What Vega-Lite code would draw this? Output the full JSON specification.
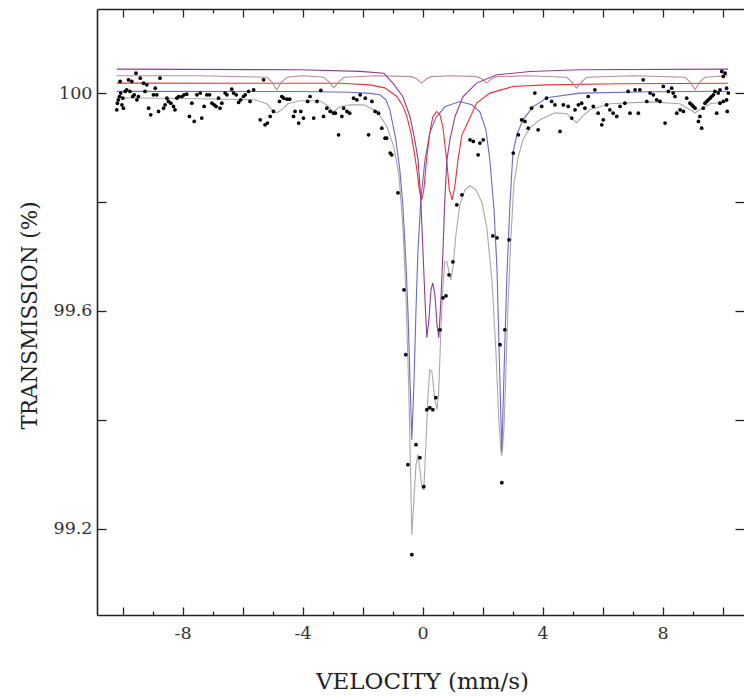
{
  "$schema": "https://vega.github.io/schema/vega-lite/v6.json",
  "width": 647,
  "height": 606,
  "autosize": {"type": "none"},
  "padding": {"left": 97, "top": 9, "right": 0, "bottom": 82},
  "background": "white",
  "config": {"view": {"stroke": null}, "font": "DejaVu Serif"},
  "datasets": {
    "lines": [
      {"s": "fit", "v": -10.19, "t": 99.9914}, {"s": "fit", "v": -7.42, "t": 99.9896}, {"s": "fit", "v": -5.59, "t": 99.9877},
      {"s": "fit", "v": -5.19, "t": 99.9804}, {"s": "fit", "v": -5.02, "t": 99.9694}, {"s": "fit", "v": -4.86, "t": 99.9638},
      {"s": "fit", "v": -4.69, "t": 99.9694}, {"s": "fit", "v": -4.49, "t": 99.9804}, {"s": "fit", "v": -4.09, "t": 99.9859},
      {"s": "fit", "v": -3.42, "t": 99.9859}, {"s": "fit", "v": -3.16, "t": 99.9767}, {"s": "fit", "v": -2.96, "t": 99.9657},
      {"s": "fit", "v": -2.76, "t": 99.9749}, {"s": "fit", "v": -2.42, "t": 99.9785}, {"s": "fit", "v": -1.95, "t": 99.9785},
      {"s": "fit", "v": -1.52, "t": 99.9663}, {"s": "fit", "v": -1.19, "t": 99.9387}, {"s": "fit", "v": -0.96, "t": 99.9014},
      {"s": "fit", "v": -0.79, "t": 99.85}, {"s": "fit", "v": -0.66, "t": 99.7582}, {"s": "fit", "v": -0.56, "t": 99.6388},
      {"s": "fit", "v": -0.46, "t": 99.4553}, {"s": "fit", "v": -0.39, "t": 99.2716}, {"s": "fit", "v": -0.36, "t": 99.1889},
      {"s": "fit", "v": -0.31, "t": 99.2349}, {"s": "fit", "v": -0.22, "t": 99.3175}, {"s": "fit", "v": -0.16, "t": 99.3359},
      {"s": "fit", "v": -0.09, "t": 99.3083}, {"s": "fit", "v": -0.02, "t": 99.2753}, {"s": "fit", "v": 0.04, "t": 99.2716},
      {"s": "fit", "v": 0.11, "t": 99.3543}, {"s": "fit", "v": 0.18, "t": 99.4461}, {"s": "fit", "v": 0.24, "t": 99.492},
      {"s": "fit", "v": 0.31, "t": 99.4883}, {"s": "fit", "v": 0.41, "t": 99.4369}, {"s": "fit", "v": 0.48, "t": 99.4185},
      {"s": "fit", "v": 0.54, "t": 99.4553}, {"s": "fit", "v": 0.61, "t": 99.5654}, {"s": "fit", "v": 0.68, "t": 99.648},
      {"s": "fit", "v": 0.74, "t": 99.6902}, {"s": "fit", "v": 0.81, "t": 99.6902}, {"s": "fit", "v": 0.88, "t": 99.6718},
      {"s": "fit", "v": 0.94, "t": 99.6571}, {"s": "fit", "v": 1.01, "t": 99.6792}, {"s": "fit", "v": 1.11, "t": 99.7398},
      {"s": "fit", "v": 1.24, "t": 99.7949}, {"s": "fit", "v": 1.41, "t": 99.8224}, {"s": "fit", "v": 1.58, "t": 99.8298},
      {"s": "fit", "v": 1.78, "t": 99.8224}, {"s": "fit", "v": 1.98, "t": 99.7986}, {"s": "fit", "v": 2.14, "t": 99.7527},
      {"s": "fit", "v": 2.31, "t": 99.6571}, {"s": "fit", "v": 2.44, "t": 99.5287}, {"s": "fit", "v": 2.54, "t": 99.4002},
      {"s": "fit", "v": 2.61, "t": 99.3414}, {"s": "fit", "v": 2.64, "t": 99.334}, {"s": "fit", "v": 2.71, "t": 99.3818},
      {"s": "fit", "v": 2.78, "t": 99.492}, {"s": "fit", "v": 2.84, "t": 99.6021}, {"s": "fit", "v": 2.94, "t": 99.7306},
      {"s": "fit", "v": 3.04, "t": 99.8316}, {"s": "fit", "v": 3.18, "t": 99.8812}, {"s": "fit", "v": 3.34, "t": 99.9142},
      {"s": "fit", "v": 3.58, "t": 99.9363}, {"s": "fit", "v": 3.91, "t": 99.951}, {"s": "fit", "v": 4.41, "t": 99.9638},
      {"s": "fit", "v": 4.81, "t": 99.962}, {"s": "fit", "v": 4.98, "t": 99.9528}, {"s": "fit", "v": 5.14, "t": 99.9455},
      {"s": "fit", "v": 5.31, "t": 99.9565}, {"s": "fit", "v": 5.58, "t": 99.9694}, {"s": "fit", "v": 6.24, "t": 99.9804},
      {"s": "fit", "v": 7.58, "t": 99.984}, {"s": "fit", "v": 8.58, "t": 99.9804}, {"s": "fit", "v": 8.91, "t": 99.9694},
      {"s": "fit", "v": 9.08, "t": 99.9638}, {"s": "fit", "v": 9.24, "t": 99.9694}, {"s": "fit", "v": 9.58, "t": 99.9804},
      {"s": "fit", "v": 10.18, "t": 99.9846},

      {"s": "blue", "v": -10.19, "t": 100.0033}, {"s": "blue", "v": -4.09, "t": 100.003}, {"s": "blue", "v": -2.42, "t": 100.0015},
      {"s": "blue", "v": -1.76, "t": 99.9996}, {"s": "blue", "v": -1.42, "t": 99.9969}, {"s": "blue", "v": -1.22, "t": 99.9877},
      {"s": "blue", "v": -1.09, "t": 99.9694}, {"s": "blue", "v": -0.89, "t": 99.9142}, {"s": "blue", "v": -0.76, "t": 99.8592},
      {"s": "blue", "v": -0.66, "t": 99.7949}, {"s": "blue", "v": -0.56, "t": 99.6939}, {"s": "blue", "v": -0.49, "t": 99.6021},
      {"s": "blue", "v": -0.42, "t": 99.4736}, {"s": "blue", "v": -0.36, "t": 99.3634}, {"s": "blue", "v": -0.29, "t": 99.4644},
      {"s": "blue", "v": -0.22, "t": 99.6021}, {"s": "blue", "v": -0.16, "t": 99.7031}, {"s": "blue", "v": -0.06, "t": 99.8041},
      {"s": "blue", "v": 0.08, "t": 99.8775}, {"s": "blue", "v": 0.24, "t": 99.9271}, {"s": "blue", "v": 0.44, "t": 99.9547},
      {"s": "blue", "v": 0.74, "t": 99.9749}, {"s": "blue", "v": 1.24, "t": 99.9846}, {"s": "blue", "v": 1.64, "t": 99.9785},
      {"s": "blue", "v": 1.91, "t": 99.9657}, {"s": "blue", "v": 2.11, "t": 99.9326}, {"s": "blue", "v": 2.24, "t": 99.8775},
      {"s": "blue", "v": 2.38, "t": 99.7857}, {"s": "blue", "v": 2.48, "t": 99.6755}, {"s": "blue", "v": 2.54, "t": 99.547},
      {"s": "blue", "v": 2.64, "t": 99.3414}, {"s": "blue", "v": 2.74, "t": 99.5379}, {"s": "blue", "v": 2.81, "t": 99.6663},
      {"s": "blue", "v": 2.91, "t": 99.7949}, {"s": "blue", "v": 3.01, "t": 99.8904}, {"s": "blue", "v": 3.14, "t": 99.9234},
      {"s": "blue", "v": 3.34, "t": 99.951}, {"s": "blue", "v": 3.68, "t": 99.9749}, {"s": "blue", "v": 4.14, "t": 99.9914},
      {"s": "blue", "v": 5.24, "t": 100.0}, {"s": "blue", "v": 7.58, "t": 100.0024}, {"s": "blue", "v": 10.18, "t": 100.0033},

      {"s": "red", "v": -10.19, "t": 100.0184}, {"s": "red", "v": -2.76, "t": 100.018}, {"s": "red", "v": -1.76, "t": 100.0152},
      {"s": "red", "v": -1.26, "t": 100.0097}, {"s": "red", "v": -0.86, "t": 99.9938}, {"s": "red", "v": -0.66, "t": 99.9767},
      {"s": "red", "v": -0.52, "t": 99.9565}, {"s": "red", "v": -0.39, "t": 99.9271}, {"s": "red", "v": -0.29, "t": 99.8959},
      {"s": "red", "v": -0.19, "t": 99.8592}, {"s": "red", "v": -0.11, "t": 99.8224}, {"s": "red", "v": -0.03, "t": 99.8041},
      {"s": "red", "v": 0.04, "t": 99.8224}, {"s": "red", "v": 0.13, "t": 99.8775}, {"s": "red", "v": 0.24, "t": 99.9271},
      {"s": "red", "v": 0.34, "t": 99.9565}, {"s": "red", "v": 0.47, "t": 99.9663}, {"s": "red", "v": 0.58, "t": 99.9602},
      {"s": "red", "v": 0.68, "t": 99.9363}, {"s": "red", "v": 0.8, "t": 99.8775}, {"s": "red", "v": 0.89, "t": 99.8224},
      {"s": "red", "v": 0.99, "t": 99.8041}, {"s": "red", "v": 1.08, "t": 99.8316}, {"s": "red", "v": 1.18, "t": 99.8775},
      {"s": "red", "v": 1.31, "t": 99.9234}, {"s": "red", "v": 1.47, "t": 99.9418}, {"s": "red", "v": 1.8, "t": 99.9816},
      {"s": "red", "v": 2.24, "t": 100.0}, {"s": "red", "v": 3.01, "t": 100.0121}, {"s": "red", "v": 4.13, "t": 100.0152},
      {"s": "red", "v": 6.58, "t": 100.0171}, {"s": "red", "v": 10.18, "t": 100.018},

      {"s": "pink", "v": -10.19, "t": 100.0318}, {"s": "pink", "v": -7.5, "t": 100.0318}, {"s": "pink", "v": -5.19, "t": 100.0291},
      {"s": "pink", "v": -5.02, "t": 100.0207}, {"s": "pink", "v": -4.86, "t": 100.0061}, {"s": "pink", "v": -4.69, "t": 100.0207},
      {"s": "pink", "v": -4.52, "t": 100.0291}, {"s": "pink", "v": -4.0, "t": 100.0318}, {"s": "pink", "v": -3.29, "t": 100.0291},
      {"s": "pink", "v": -3.12, "t": 100.0207}, {"s": "pink", "v": -2.96, "t": 100.0097}, {"s": "pink", "v": -2.79, "t": 100.0207},
      {"s": "pink", "v": -2.62, "t": 100.0291}, {"s": "pink", "v": -1.5, "t": 100.0318}, {"s": "pink", "v": -0.37, "t": 100.0303},
      {"s": "pink", "v": -0.2, "t": 100.0263}, {"s": "pink", "v": -0.03, "t": 100.0184}, {"s": "pink", "v": 0.13, "t": 100.0263},
      {"s": "pink", "v": 0.3, "t": 100.0303}, {"s": "pink", "v": 1.0, "t": 100.0318}, {"s": "pink", "v": 1.8, "t": 100.0303},
      {"s": "pink", "v": 1.97, "t": 100.0263}, {"s": "pink", "v": 2.13, "t": 100.0184}, {"s": "pink", "v": 2.3, "t": 100.0263},
      {"s": "pink", "v": 2.47, "t": 100.0303}, {"s": "pink", "v": 3.5, "t": 100.0318}, {"s": "pink", "v": 4.8, "t": 100.0291},
      {"s": "pink", "v": 4.97, "t": 100.0207}, {"s": "pink", "v": 5.13, "t": 100.0092}, {"s": "pink", "v": 5.3, "t": 100.0207},
      {"s": "pink", "v": 5.47, "t": 100.0291}, {"s": "pink", "v": 7.0, "t": 100.0318}, {"s": "pink", "v": 8.74, "t": 100.0291},
      {"s": "pink", "v": 8.91, "t": 100.0207}, {"s": "pink", "v": 9.08, "t": 100.0061}, {"s": "pink", "v": 9.24, "t": 100.0207},
      {"s": "pink", "v": 9.41, "t": 100.0291}, {"s": "pink", "v": 10.18, "t": 100.0318},

      {"s": "purple", "v": -10.19, "t": 100.0441}, {"s": "purple", "v": -4.09, "t": 100.0428}, {"s": "purple", "v": -2.09, "t": 100.04},
      {"s": "purple", "v": -1.29, "t": 100.0364}, {"s": "purple", "v": -0.99, "t": 100.0184}, {"s": "purple", "v": -0.66, "t": 99.9938},
      {"s": "purple", "v": -0.42, "t": 99.9571}, {"s": "purple", "v": -0.26, "t": 99.9142}, {"s": "purple", "v": -0.15, "t": 99.8775},
      {"s": "purple", "v": -0.06, "t": 99.8041}, {"s": "purple", "v": 0.01, "t": 99.7123}, {"s": "purple", "v": 0.08, "t": 99.6205},
      {"s": "purple", "v": 0.14, "t": 99.5507}, {"s": "purple", "v": 0.21, "t": 99.5837}, {"s": "purple", "v": 0.28, "t": 99.6388},
      {"s": "purple", "v": 0.34, "t": 99.6516}, {"s": "purple", "v": 0.41, "t": 99.6296}, {"s": "purple", "v": 0.48, "t": 99.5746},
      {"s": "purple", "v": 0.54, "t": 99.5507}, {"s": "purple", "v": 0.61, "t": 99.6205}, {"s": "purple", "v": 0.68, "t": 99.7123},
      {"s": "purple", "v": 0.74, "t": 99.8041}, {"s": "purple", "v": 0.81, "t": 99.8775}, {"s": "purple", "v": 0.91, "t": 99.9142},
      {"s": "purple", "v": 1.08, "t": 99.9571}, {"s": "purple", "v": 1.35, "t": 99.9938}, {"s": "purple", "v": 1.8, "t": 100.0184},
      {"s": "purple", "v": 2.47, "t": 100.0336}, {"s": "purple", "v": 3.58, "t": 100.0397}, {"s": "purple", "v": 5.24, "t": 100.0428},
      {"s": "purple", "v": 10.18, "t": 100.0441}
    ],
    "pts": [
      {"v": -10.19, "t": 99.9694}, {"v": -10.17, "t": 99.9816}, {"v": -10.14, "t": 99.9877}, {"v": -10.1, "t": 99.9938},
      {"v": -10.08, "t": 100.0214}, {"v": -10.06, "t": 100.0}, {"v": -10.02, "t": 99.9785}, {"v": -9.99, "t": 99.9908},
      {"v": -9.97, "t": 99.9724}, {"v": -9.91, "t": 100.003}, {"v": -9.86, "t": 100.0061}, {"v": -9.8, "t": 100.0245},
      {"v": -9.75, "t": 100.003}, {"v": -9.69, "t": 100.0214}, {"v": -9.66, "t": 99.9938}, {"v": -9.61, "t": 99.9969},
      {"v": -9.55, "t": 100.0367}, {"v": -9.52, "t": 99.9877}, {"v": -9.47, "t": 99.9938}, {"v": -9.41, "t": 100.0275},
      {"v": -9.3, "t": 100.0183}, {"v": -9.25, "t": 100.003}, {"v": -9.19, "t": 100.0153}, {"v": -9.13, "t": 99.9724},
      {"v": -9.06, "t": 99.9602}, {"v": -8.97, "t": 99.9969}, {"v": -8.91, "t": 100.0091}, {"v": -8.86, "t": 99.9969},
      {"v": -8.8, "t": 99.9663}, {"v": -8.75, "t": 100.0275}, {"v": -8.63, "t": 99.9724}, {"v": -8.58, "t": 99.9785},
      {"v": -8.52, "t": 99.9908}, {"v": -8.47, "t": 99.9847}, {"v": -8.39, "t": 99.9816}, {"v": -8.3, "t": 99.9755},
      {"v": -8.25, "t": 99.9694}, {"v": -8.19, "t": 99.9908}, {"v": -8.13, "t": 99.9938}, {"v": -8.02, "t": 99.9938},
      {"v": -7.95, "t": 99.9969}, {"v": -7.86, "t": 99.9981}, {"v": -7.77, "t": 99.9571}, {"v": -7.69, "t": 99.9816},
      {"v": -7.61, "t": 99.948}, {"v": -7.52, "t": 99.9969}, {"v": -7.41, "t": 100.0}, {"v": -7.36, "t": 99.9541},
      {"v": -7.28, "t": 99.9755}, {"v": -7.19, "t": 99.9969}, {"v": -7.1, "t": 99.9969}, {"v": -7.02, "t": 99.9816},
      {"v": -6.95, "t": 99.9785}, {"v": -6.88, "t": 99.9755}, {"v": -6.8, "t": 99.9908}, {"v": -6.75, "t": 99.9724},
      {"v": -6.69, "t": 99.9816}, {"v": -6.58, "t": 100.0}, {"v": -6.52, "t": 99.9969}, {"v": -6.36, "t": 100.0073},
      {"v": -6.3, "t": 100.0}, {"v": -6.21, "t": 99.9969}, {"v": -6.13, "t": 99.9828}, {"v": -6.06, "t": 99.9877},
      {"v": -5.97, "t": 99.9938}, {"v": -5.91, "t": 99.9969}, {"v": -5.8, "t": 100.003}, {"v": -5.75, "t": 99.9847},
      {"v": -5.63, "t": 100.0061}, {"v": -5.41, "t": 99.951}, {"v": -5.3, "t": 100.0245}, {"v": -5.25, "t": 99.9418},
      {"v": -5.17, "t": 99.9449}, {"v": -5.08, "t": 99.9571}, {"v": -4.97, "t": 99.9663}, {"v": -4.77, "t": 99.9847},
      {"v": -4.69, "t": 99.9938}, {"v": -4.63, "t": 99.9908}, {"v": -4.52, "t": 99.9889}, {"v": -4.43, "t": 99.9889},
      {"v": -4.3, "t": 99.9571}, {"v": -4.25, "t": 99.9663}, {"v": -4.13, "t": 99.9449}, {"v": -4.06, "t": 99.9663},
      {"v": -3.97, "t": 99.9541}, {"v": -3.83, "t": 99.9847}, {"v": -3.75, "t": 99.9938}, {"v": -3.63, "t": 99.9541},
      {"v": -3.52, "t": 99.9847}, {"v": -3.39, "t": 100.0049}, {"v": -3.3, "t": 99.9571}, {"v": -3.19, "t": 99.9724},
      {"v": -3.08, "t": 99.9663}, {"v": -2.97, "t": 99.9632}, {"v": -2.91, "t": 99.9632}, {"v": -2.8, "t": 99.9235},
      {"v": -2.69, "t": 99.9571}, {"v": -2.63, "t": 99.9724}, {"v": -2.52, "t": 99.9663}, {"v": -2.43, "t": 99.9632},
      {"v": -2.3, "t": 99.9908}, {"v": -2.19, "t": 99.9877}, {"v": -2.08, "t": 99.9969}, {"v": -1.91, "t": 99.9908},
      {"v": -1.8, "t": 99.9235}, {"v": -1.69, "t": 99.9847}, {"v": -1.58, "t": 99.9663}, {"v": -1.47, "t": 99.9632},
      {"v": -1.36, "t": 99.9357}, {"v": -1.25, "t": 99.9173}, {"v": -1.08, "t": 99.8898}, {"v": -1.2, "t": 99.9173},
      {"v": -1.03, "t": 99.8867}, {"v": -0.82, "t": 99.8169}, {"v": -0.62, "t": 99.6388}, {"v": -0.56, "t": 99.5195},
      {"v": -0.49, "t": 99.3175}, {"v": -0.36, "t": 99.1522}, {"v": -0.22, "t": 99.3543}, {"v": -0.09, "t": 99.3304},
      {"v": 0.04, "t": 99.2771}, {"v": 0.14, "t": 99.4185}, {"v": 0.24, "t": 99.4222}, {"v": 0.34, "t": 99.4185},
      {"v": 0.44, "t": 99.4406}, {"v": 0.58, "t": 99.5654}, {"v": 0.68, "t": 99.6241}, {"v": 0.78, "t": 99.6278},
      {"v": 0.88, "t": 99.6663}, {"v": 1.01, "t": 99.6902}, {"v": 1.14, "t": 99.7949}, {"v": 1.31, "t": 99.8133},
      {"v": 1.58, "t": 99.9143}, {"v": 1.69, "t": 99.9112}, {"v": 1.85, "t": 99.8867}, {"v": 1.91, "t": 99.9082},
      {"v": 2.02, "t": 99.9143}, {"v": 2.34, "t": 99.738}, {"v": 2.48, "t": 99.7343}, {"v": 2.58, "t": 99.5379},
      {"v": 2.64, "t": 99.2845}, {"v": 2.74, "t": 99.5654}, {"v": 2.88, "t": 99.7306}, {"v": 3.02, "t": 99.8898},
      {"v": 3.19, "t": 99.9235}, {"v": 3.3, "t": 99.951}, {"v": 3.41, "t": 99.948}, {"v": 3.52, "t": 99.9357},
      {"v": 3.63, "t": 99.9724}, {"v": 3.74, "t": 100.0}, {"v": 3.85, "t": 99.9326}, {"v": 3.97, "t": 99.9755},
      {"v": 4.13, "t": 99.9908}, {"v": 4.3, "t": 99.9847}, {"v": 4.41, "t": 99.9785}, {"v": 4.58, "t": 99.9296},
      {"v": 4.69, "t": 99.9785}, {"v": 4.85, "t": 99.9755}, {"v": 4.97, "t": 99.9541}, {"v": 5.08, "t": 99.9694},
      {"v": 5.19, "t": 99.9785}, {"v": 5.3, "t": 99.9816}, {"v": 5.41, "t": 99.9724}, {"v": 5.52, "t": 99.9938},
      {"v": 5.69, "t": 99.9755}, {"v": 5.74, "t": 100.0061}, {"v": 5.85, "t": 99.9632}, {"v": 5.97, "t": 99.9418},
      {"v": 6.02, "t": 99.951}, {"v": 6.13, "t": 99.9785}, {"v": 6.24, "t": 99.9694}, {"v": 6.35, "t": 99.9632},
      {"v": 6.47, "t": 99.9571}, {"v": 6.58, "t": 99.9755}, {"v": 6.74, "t": 99.9816}, {"v": 6.85, "t": 100.003},
      {"v": 6.91, "t": 99.9632}, {"v": 7.08, "t": 100.0061}, {"v": 7.19, "t": 99.9632}, {"v": 7.24, "t": 100.0061},
      {"v": 7.35, "t": 100.0245}, {"v": 7.47, "t": 99.9847}, {"v": 7.58, "t": 100.0}, {"v": 7.69, "t": 99.9969},
      {"v": 7.8, "t": 99.9877}, {"v": 7.91, "t": 99.9847}, {"v": 8.02, "t": 100.0122}, {"v": 8.08, "t": 99.9449},
      {"v": 8.19, "t": 100.003}, {"v": 8.3, "t": 100.0091}, {"v": 8.35, "t": 100.0}, {"v": 8.41, "t": 99.9938},
      {"v": 8.47, "t": 99.9632}, {"v": 8.58, "t": 99.9694}, {"v": 8.69, "t": 99.9663}, {"v": 8.8, "t": 99.9908},
      {"v": 8.91, "t": 99.9816}, {"v": 8.97, "t": 99.9785}, {"v": 9.02, "t": 99.9755}, {"v": 9.08, "t": 99.9724},
      {"v": 9.19, "t": 99.948}, {"v": 9.24, "t": 99.9571}, {"v": 9.3, "t": 99.9357}, {"v": 9.35, "t": 99.9724},
      {"v": 9.41, "t": 99.9816}, {"v": 9.47, "t": 99.9847}, {"v": 9.52, "t": 99.9877}, {"v": 9.58, "t": 99.9908},
      {"v": 9.63, "t": 99.9938}, {"v": 9.69, "t": 99.9969}, {"v": 9.74, "t": 100.003}, {"v": 9.8, "t": 99.9632},
      {"v": 9.85, "t": 100.0}, {"v": 9.91, "t": 100.0061}, {"v": 9.97, "t": 100.0398}, {"v": 10.02, "t": 100.0306},
      {"v": 10.08, "t": 100.0367}, {"v": 10.13, "t": 100.0091}, {"v": 10.15, "t": 99.9663}, {"v": 10.19, "t": 100.0},
      {"v": 10.13, "t": 99.9877}, {"v": 10.02, "t": 99.9847}, {"v": 9.91, "t": 99.9816}
    ]
  },
  "layer": [
    {
      "data": {"name": "lines"},
      "mark": {"type": "line", "strokeWidth": 1.1, "clip": true},
      "encoding": {
        "x": {
          "field": "v", "type": "quantitative",
          "scale": {"domain": [-10.85, 10.71], "nice": false, "zero": false},
          "axis": {
            "orient": "bottom",
            "values": [-10, -9, -8, -7, -6, -5, -4, -3, -2, -1, 0, 1, 2, 3, 4, 5, 6, 7, 8, 9, 10],
            "tickSize": {"condition": {"test": "datum.value % 2 === 0", "value": -8}, "value": -4},
            "tickColor": "#222", "tickWidth": 1.3,
            "domain": true, "domainColor": "#222", "domainWidth": 1.6,
            "grid": false,
            "labelExpr": "datum.value % 4 === 0 ? '' + datum.value : ''",
            "labelFont": "DejaVu Serif", "labelFontSize": 17.5, "labelColor": "#333",
            "labelPadding": 17, "labelFlush": false, "labelOverlap": false,
            "title": "VELOCITY (mm/s)",
            "titleFont": "DejaVu Serif", "titleFontSize": 23, "titleFontWeight": "normal", "titleColor": "#222",
            "titleX": 325, "titleY": 73, "titleBaseline": "alphabetic", "titleAlign": "center"
          }
        },
        "y": {
          "field": "t", "type": "quantitative",
          "scale": {"domain": [99.0415, 100.1545], "nice": false, "zero": false},
          "axis": {
            "orient": "left",
            "values": [99.2, 99.4, 99.6, 99.8, 100],
            "tickSize": -9, "tickColor": "#222", "tickWidth": 1.3,
            "domain": true, "domainColor": "#222", "domainWidth": 1.6,
            "grid": false,
            "labelExpr": "abs(datum.value - 99.4) < 0.01 || abs(datum.value - 99.8) < 0.01 ? '' : '' + datum.value",
            "labelFont": "DejaVu Serif", "labelFontSize": 17.5, "labelColor": "#333",
            "labelPadding": 14, "labelFlush": false, "labelOverlap": false,
            "title": "TRANSMISSION (%)",
            "titleFont": "DejaVu Serif", "titleFontSize": 21.5, "titleFontWeight": "normal", "titleColor": "#222",
            "titleX": -67, "titleY": 306, "titleAngle": -90, "titleBaseline": "middle", "titleAlign": "center"
          }
        },
        "color": {
          "field": "s", "type": "nominal",
          "scale": {"domain": ["fit", "blue", "red", "pink", "purple"], "range": ["#a8a8a8", "#6a6ac8", "#e8323c", "#b88a9a", "#8e3c90"]},
          "legend": null
        }
      }
    },
    {
      "data": {"name": "pts"},
      "mark": {"type": "circle", "size": 14, "color": "#000000", "opacity": 1, "clip": true},
      "encoding": {
        "x": {
          "field": "v", "type": "quantitative",
          "axis": {
            "orient": "top",
            "values": [-10, -9, -8, -7, -6, -5, -4, -3, -2, -1, 0, 1, 2, 3, 4, 5, 6, 7, 8, 9, 10],
            "tickSize": {"condition": {"test": "datum.value % 2 === 0", "value": -8}, "value": -4},
            "tickColor": "#222", "tickWidth": 1.3,
            "domain": true, "domainColor": "#222", "domainWidth": 1.6,
            "grid": false, "labels": false, "title": null
          }
        },
        "y": {
          "field": "t", "type": "quantitative",
          "axis": {
            "orient": "right",
            "values": [99.2, 99.4, 99.6, 99.8, 100],
            "tickSize": -9, "tickColor": "#222", "tickWidth": 1.3,
            "domain": false, "grid": false, "labels": false, "title": null
          }
        }
      }
    }
  ],
  "resolve": {"axis": {"x": "independent", "y": "independent"}}
}
